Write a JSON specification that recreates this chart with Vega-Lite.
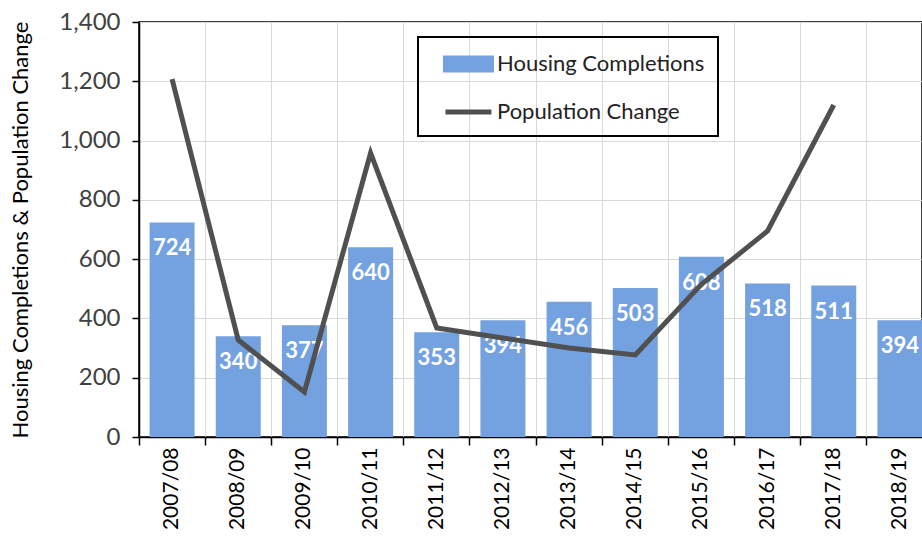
{
  "$schema": "https://vega.github.io/schema/vega-lite/v6.json",
  "autosize": {"type": "none"},
  "padding": {"left": 139, "top": 22, "right": 0, "bottom": 99},
  "width": 783,
  "height": 415,
  "background": "white",
  "config": {
    "font": "Lato",
    "view": {"stroke": "#000000", "strokeWidth": 1.5},
    "axis": {"gridColor": "#d9d9d9", "gridWidth": 1, "domainColor": "#000000", "tickColor": "#000000", "labelColor": "#404040", "labelFont": "Lato", "titleFont": "Lato"}
  },
  "data": {
    "values": [
      {"year": "2007/08", "completions": 724, "population": 1207},
      {"year": "2008/09", "completions": 340, "population": 327},
      {"year": "2009/10", "completions": 377, "population": 152},
      {"year": "2010/11", "completions": 640, "population": 958},
      {"year": "2011/12", "completions": 353, "population": 368},
      {"year": "2012/13", "completions": 394, "population": 334},
      {"year": "2013/14", "completions": 456, "population": 300},
      {"year": "2014/15", "completions": 503, "population": 277},
      {"year": "2015/16", "completions": 608, "population": 515},
      {"year": "2016/17", "completions": 518, "population": 695},
      {"year": "2017/18", "completions": 511, "population": 1120},
      {"year": "2018/19", "completions": 394, "population": null}
    ]
  },
  "encoding": {
    "x": {
      "field": "year",
      "type": "nominal",
      "sort": null,
      "scale": {"range": [0, 794], "paddingInner": 0.32, "paddingOuter": 0.16},
      "axis": {
        "title": null,
        "labelAngle": -90,
        "labelAlign": "right",
        "labelBaseline": "middle",
        "labelFontSize": 21,
        "labelPadding": 2,
        "bandPosition": -0.235,
        "tickSize": 8,
        "tickWidth": 1.5,
        "domainWidth": 1.5,
        "grid": true,
        "labelColor": "#000000"
      }
    }
  },
  "layer": [
    {
      "mark": {"type": "bar", "fill": "#74a1df"},
      "encoding": {
        "y": {
          "field": "completions",
          "type": "quantitative",
          "scale": {"domain": [0, 1400], "nice": false},
          "axis": {
            "title": "Housing Completions & Population Change",
            "titleFontSize": 22,
            "titleFontWeight": "normal",
            "titleColor": "#000000",
            "titlePadding": 26,
            "values": [0, 200, 400, 600, 800, 1000, 1200, 1400],
            "format": ",d",
            "labelFontSize": 24,
            "labelPadding": 12,
            "tickSize": 7,
            "tickWidth": 1.5,
            "domainWidth": 1.5,
            "grid": true
          }
        },
        "color": {
          "datum": "Housing Completions",
          "type": "nominal",
          "scale": {"domain": ["Housing Completions", "Population Change"], "range": ["#74a1df", "#505050"]},
          "legend": {
            "title": null,
            "orient": "none",
            "legendX": 279,
            "legendY": 15,
            "padding": 13,
            "rowPadding": 18,
            "symbolSize": 529,
            "labelFontSize": 22,
            "labelLimit": 400,
            "labelColor": "#222222",
            "labelOffset": 38,
            "strokeColor": "#000000",
            "encode": {
              "legend": {"update": {"stroke": {"value": "#000000"}, "strokeWidth": {"value": 2}}},
              "symbols": {
                "update": {
                  "shape": {"signal": "datum.value === 'Housing Completions' ? 'M0.04,-0.52H4.04V0.52H0.04Z' : 'M0.04,0H4.04'"},
                  "fill": {"signal": "datum.value === 'Housing Completions' ? '#74a1df' : 'transparent'"},
                  "stroke": {"signal": "datum.value === 'Housing Completions' ? 'transparent' : '#505050'"},
                  "strokeWidth": {"value": 5},
                  "fillOpacity": {"value": 1},
                  "strokeOpacity": {"value": 1},
                  "opacity": {"value": 1}
                }
              }
            }
          }
        }
      }
    },
    {
      "mark": {"type": "text", "fontWeight": "bold", "fontSize": 22, "color": "#ffffff", "baseline": "middle", "dy": 26},
      "encoding": {
        "y": {"field": "completions", "type": "quantitative"},
        "text": {"field": "completions", "type": "quantitative"}
      }
    },
    {
      "transform": [{"filter": "datum.population != null"}],
      "mark": {"type": "line", "strokeWidth": 5, "strokeJoin": "miter"},
      "encoding": {
        "y": {"field": "population", "type": "quantitative"},
        "color": {"datum": "Population Change", "type": "nominal"}
      }
    }
  ]
}
